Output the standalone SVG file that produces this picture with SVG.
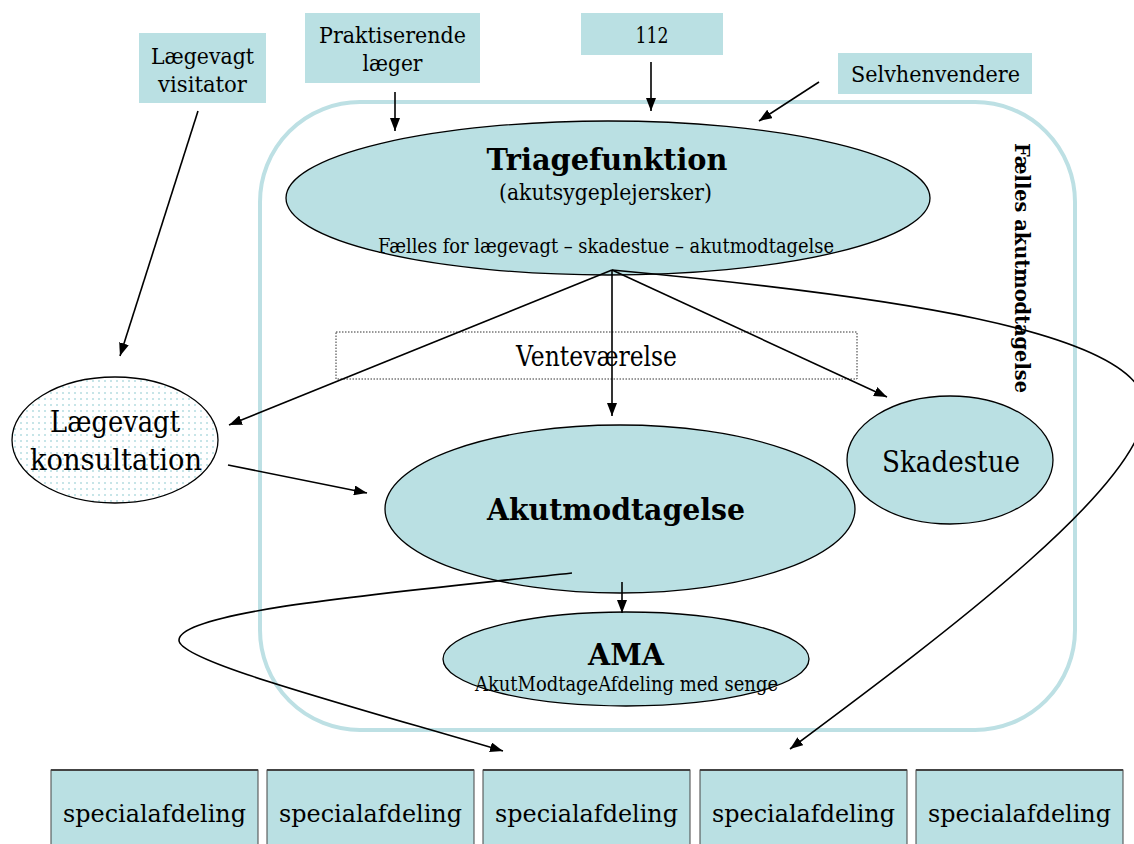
<svg xmlns="http://www.w3.org/2000/svg" width="1134" height="844" viewBox="0 0 1134 844">
<style>
text{font-family:"DejaVu Serif","Liberation Serif",serif;fill:#000}
.box{fill:#bae0e3;stroke:none}
.node{fill:#bae0e3;stroke:#000;stroke-width:1.3}
.line{fill:none;stroke:#000;stroke-width:1.6}
.spec{fill:#bae0e3;stroke:#444;stroke-width:1}
.b{font-weight:bold}
</style>
<defs>
<marker id="ah" markerUnits="userSpaceOnUse" markerWidth="13" markerHeight="10" refX="13" refY="5" orient="auto">
<path d="M0,0 L13,5 L0,10 z" fill="#000"/>
</marker>
<pattern id="dots" width="6" height="6" patternUnits="userSpaceOnUse">
<rect width="6" height="6" fill="#fff"/>
<circle cx="3" cy="3" r="1" fill="#b5dde1"/>
</pattern>
</defs>
<rect x="0" y="0" width="1134" height="844" fill="#fff"/>

<g id="container">
<rect x="260" y="102" width="815" height="628" rx="100" ry="100" fill="none" stroke="#bde0e4" stroke-width="4"/>
<text class="b" font-size="20" transform="translate(1015,268) rotate(90)" text-anchor="middle" textLength="250" lengthAdjust="spacingAndGlyphs">Fælles akutmodtagelse</text>
</g>

<g id="visitator">
<rect class="box" x="139" y="33" width="127" height="70"/>
<text font-size="23" x="202.5" y="64" text-anchor="middle" textLength="103" lengthAdjust="spacingAndGlyphs">Lægevagt</text>
<text font-size="23" x="202.5" y="92" text-anchor="middle" textLength="89" lengthAdjust="spacingAndGlyphs">visitator</text>
</g>
<g id="praktiserende">
<rect class="box" x="305" y="13" width="175" height="70"/>
<text font-size="23" x="392.5" y="43" text-anchor="middle" textLength="147" lengthAdjust="spacingAndGlyphs">Praktiserende</text>
<text font-size="23" x="392.5" y="71" text-anchor="middle" textLength="60" lengthAdjust="spacingAndGlyphs">læger</text>
</g>
<g id="n112">
<rect class="box" x="581" y="13" width="142" height="42"/>
<text font-size="23" x="652" y="43" text-anchor="middle" textLength="33" lengthAdjust="spacingAndGlyphs">112</text>
</g>
<g id="selvhenvendere">
<rect class="box" x="838" y="53" width="194" height="41"/>
<text font-size="23" x="935.5" y="82" text-anchor="middle" textLength="169" lengthAdjust="spacingAndGlyphs">Selvhenvendere</text>
</g>

<g id="triage">
<ellipse class="node" cx="608" cy="198" rx="322" ry="77"/>
<text class="b" font-size="30" x="607" y="170" text-anchor="middle" textLength="241" lengthAdjust="spacingAndGlyphs">Triagefunktion</text>
<text font-size="23" x="605.5" y="200" text-anchor="middle" textLength="213" lengthAdjust="spacingAndGlyphs">(akutsygeplejersker)</text>
<text font-size="20" x="606" y="253" text-anchor="middle" textLength="456" lengthAdjust="spacingAndGlyphs">Fælles for lægevagt – skadestue – akutmodtagelse</text>
</g>

<g id="ventevaerelse">
<rect x="336" y="332" width="521" height="47" fill="none" stroke="#333" stroke-width="1" stroke-dasharray="1.5,1.5"/>
<text font-size="27" x="596.5" y="366" text-anchor="middle" textLength="161" lengthAdjust="spacingAndGlyphs">Venteværelse</text>
</g>

<g id="konsultation">
<ellipse cx="115" cy="440" rx="103" ry="63" fill="url(#dots)" stroke="#000" stroke-width="1.3"/>
<text font-size="29" x="115" y="432" text-anchor="middle" textLength="130" lengthAdjust="spacingAndGlyphs">Lægevagt</text>
<text font-size="29" x="116" y="470" text-anchor="middle" textLength="172" lengthAdjust="spacingAndGlyphs">konsultation</text>
</g>

<g id="skadestue">
<ellipse class="node" cx="950" cy="460" rx="103" ry="64"/>
<text font-size="29" x="951" y="472" text-anchor="middle" textLength="138" lengthAdjust="spacingAndGlyphs">Skadestue</text>
</g>

<g id="akutmodtagelse">
<ellipse class="node" cx="620" cy="509" rx="235" ry="84"/>
<text class="b" font-size="29" x="616" y="520" text-anchor="middle" textLength="258" lengthAdjust="spacingAndGlyphs">Akutmodtagelse</text>
</g>

<g id="ama">
<ellipse class="node" cx="626" cy="659" rx="183" ry="47"/>
<text class="b" font-size="30" x="626" y="665" text-anchor="middle" textLength="76" lengthAdjust="spacingAndGlyphs">AMA</text>
<text font-size="20.5" x="626.5" y="691" text-anchor="middle" textLength="303" lengthAdjust="spacingAndGlyphs">AkutModtageAfdeling med senge</text>
</g>

<g id="specialafdelinger">
<g id="spec1"><rect class="spec" x="51" y="770" width="207" height="80"/><line x1="51" y1="770" x2="258" y2="770" stroke="#444" stroke-width="2"/><text font-size="25" x="154.5" y="822" text-anchor="middle" textLength="183" lengthAdjust="spacingAndGlyphs">specialafdeling</text></g>
<g id="spec2"><rect class="spec" x="267" y="770" width="207" height="80"/><line x1="267" y1="770" x2="474" y2="770" stroke="#444" stroke-width="2"/><text font-size="25" x="370.5" y="822" text-anchor="middle" textLength="183" lengthAdjust="spacingAndGlyphs">specialafdeling</text></g>
<g id="spec3"><rect class="spec" x="483" y="770" width="207" height="80"/><line x1="483" y1="770" x2="690" y2="770" stroke="#444" stroke-width="2"/><text font-size="25" x="586.5" y="822" text-anchor="middle" textLength="183" lengthAdjust="spacingAndGlyphs">specialafdeling</text></g>
<g id="spec4"><rect class="spec" x="700" y="770" width="207" height="80"/><line x1="700" y1="770" x2="907" y2="770" stroke="#444" stroke-width="2"/><text font-size="25" x="803.5" y="822" text-anchor="middle" textLength="183" lengthAdjust="spacingAndGlyphs">specialafdeling</text></g>
<g id="spec5"><rect class="spec" x="916" y="770" width="207" height="80"/><line x1="916" y1="770" x2="1123" y2="770" stroke="#444" stroke-width="2"/><text font-size="25" x="1019.5" y="822" text-anchor="middle" textLength="183" lengthAdjust="spacingAndGlyphs">specialafdeling</text></g>
</g>

<g id="connectors">
<line class="line" x1="198" y1="111" x2="120" y2="356" marker-end="url(#ah)"/>
<line class="line" x1="395" y1="92" x2="395" y2="131" marker-end="url(#ah)"/>
<line class="line" x1="651" y1="62" x2="651" y2="111" marker-end="url(#ah)"/>
<line class="line" x1="819" y1="82" x2="759" y2="121" marker-end="url(#ah)"/>
<line class="line" x1="612" y1="270" x2="229" y2="425" marker-end="url(#ah)"/>
<line class="line" x1="612" y1="270" x2="612" y2="416" marker-end="url(#ah)"/>
<line class="line" x1="612" y1="270" x2="887" y2="397" marker-end="url(#ah)"/>
<path class="line" d="M612,270 C880,295 1140,330 1145,405 C1150,480 950,630 790,749" marker-end="url(#ah)"/>
<line class="line" x1="228" y1="465" x2="367" y2="493" marker-end="url(#ah)"/>
<line class="line" x1="622" y1="582" x2="622" y2="613" marker-end="url(#ah)"/>
<path class="line" d="M572,573 C400,592 180,610 179,640 C178,660 330,700 503,751" marker-end="url(#ah)"/>
</g>
</svg>
